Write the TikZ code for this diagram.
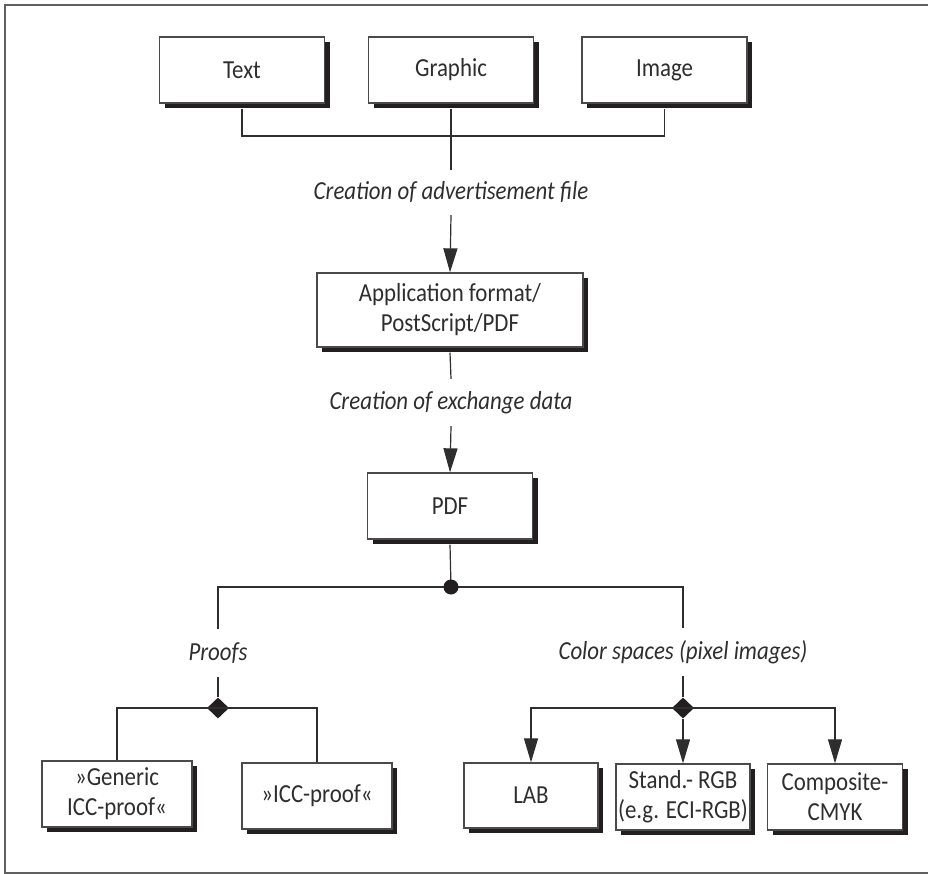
\documentclass[tikz,border=0pt]{standalone}
\usepackage{fontspec}
\setmainfont{Carlito}[FakeStretch=0.88]
\usetikzlibrary{arrows.meta,shapes.geometric,shadows}
\definecolor{ink}{HTML}{2E2E2E}
\definecolor{boxline}{HTML}{4A4A4A}
\definecolor{shadowc}{HTML}{231F20}
\definecolor{framec}{HTML}{606060}
\begin{document}
\begin{tikzpicture}[x=1pt,y=-1pt,
  box/.style={draw=boxline, line width=1.3pt, fill=white, text=ink, align=center,
    inner sep=0pt, minimum height=66pt,
    font=\fontsize{26}{30}\selectfont,
    drop shadow={shadow xshift=5pt, shadow yshift=-5pt, fill=shadowc, opacity=1}},
  lbl/.style={text=ink, font=\fontsize{26}{30}\selectfont\itshape, inner sep=0pt},
  conn/.style={draw=ink, line width=1.2pt},
  arr/.style={conn, -{Triangle[length=24pt,width=14pt]}},
  jdot/.style={circle, fill=shadowc, inner sep=0pt, minimum size=15pt},
  jdia/.style={diamond, fill=shadowc, inner sep=0pt, minimum width=22pt, minimum height=21pt},
]
\useasboundingbox (0,0) rectangle (928,874);
% frame
\draw[framec, line width=2pt] (928,5) -- (5,5) -- (5,873) -- (928,873);

% top boxes
\node[box, minimum width=165pt] (text) at (242,70) {Text};
\node[box, minimum width=165pt] (graphic) at (451,70) {Graphic};
\node[box, minimum width=165pt] (image) at (664.5,70) {Image};
\coordinate (j) at (451,136);
\draw[conn] ([yshift=-5pt]text.south) |- (j) -| ([yshift=-5pt]image.south);

\node[lbl, minimum height=45pt] (lab1) at (451,192.5) {Creation of advertisement file};
\draw[conn] ([yshift=-5pt]graphic.south) -- (lab1.north);

\node[box, minimum width=266pt, minimum height=74pt] (app) at (450,310) {Application format/\\PostScript/PDF};
\draw[arr] (lab1.south) -- (app.north);

\node[lbl, minimum height=47pt] (lab2) at (451,402.5) {Creation of exchange data};
\draw[conn] ([yshift=-5pt]app.south) -- (lab2.north);

\node[box, minimum width=165pt] (pdf) at (450,506) {PDF};
\draw[arr] (lab2.south) -- (pdf.north);

% split
\node[lbl, minimum height=48pt] (proofs) at (218,653) {Proofs};
\node[lbl, minimum height=48pt] (colors) at (683,652) {Color spaces (pixel images)};
\coordinate (bus) at (451,587);
\draw[conn] (proofs.north) |- (bus) -| (colors.north);
\draw[conn] ([yshift=-5pt]pdf.south) -- (bus);
\node[jdot] (dot) at (bus) {};

% proofs branch
\node[jdia] (pd) at (218,708) {};
\draw[conn] (proofs.south) -- (pd.north);
\node[box, minimum width=150pt] (gen) at (117,794) {»Generic\\ICC-proof«};
\node[box, minimum width=150pt] (icc) at (317,796) {»ICC-proof«};
\draw[conn] (gen.north) |- (pd.center) -| (icc.north);

% colour branch
\node[jdia] (cd) at (683,708) {};
\draw[conn] (colors.south) -- (cd.north);
\node[box, minimum width=134pt, minimum height=65pt] (lab) at (531,795.5) {LAB};
\node[box, minimum width=134pt] (rgb) at (683,797) {Stand.- RGB\\(e.g. ECI-RGB)};
\node[box, minimum width=135pt] (cmyk) at (835,797) {Composite-\\CMYK};
\draw[arr] (cd.center) -| (lab.north);
\draw[arr] (cd.center) -| (cmyk.north);
\draw[arr] (cd.south) -- (rgb.north);
\end{tikzpicture}
\end{document}
